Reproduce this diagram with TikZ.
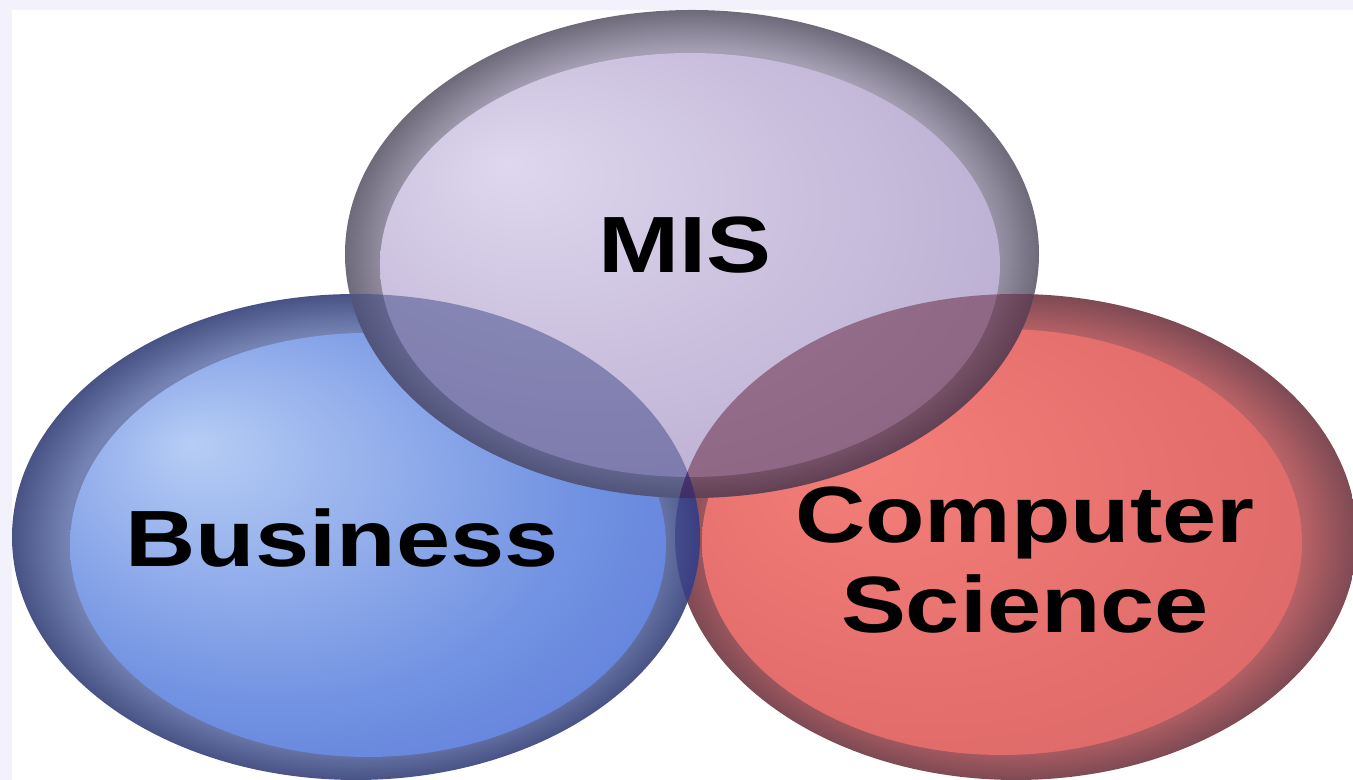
\documentclass[tikz,border=0pt]{standalone}
\usepackage{fontspec}
\setmainfont{Liberation Sans}
\usetikzlibrary{calc}

% colours
\definecolor{framecol}{HTML}{F3F2FC}
\definecolor{misLight}{HTML}{DED7EE}
\definecolor{misMid}{HTML}{C4B9D9}
\definecolor{misDeep}{HTML}{AC9CC6}
\definecolor{misRimIn}{HTML}{A49EB2}
\definecolor{misRimOut}{HTML}{6E6A7A}
\definecolor{bizLight}{HTML}{B6CDF5}
\definecolor{bizMid}{HTML}{7292E2}
\definecolor{bizDeep}{HTML}{4A66D2}
\definecolor{bizRimIn}{HTML}{7483B4}
\definecolor{bizRimOut}{HTML}{485285}
\definecolor{csLight}{HTML}{F47E78}
\definecolor{csMid}{HTML}{E46E6C}
\definecolor{csDeep}{HTML}{CC6464}
\definecolor{csRimIn}{HTML}{B86266}
\definecolor{csRimOut}{HTML}{7E4A54}
\definecolor{lensMB}{HTML}{2E3A7D}
\definecolor{lensMC}{HTML}{550E26}
\definecolor{lensBC}{HTML}{2B287B}

% shadings
\pgfdeclareradialshading{misring}{\pgfpointorigin}{color(0bp)=(misRimIn); color(21bp)=(misRimIn); color(25bp)=(misRimOut); color(50bp)=(misRimOut)}
\pgfdeclareradialshading{misface}{\pgfpoint{-15bp}{12bp}}{color(0bp)=(misLight); color(25bp)=(misMid); color(50bp)=(misDeep)}
\pgfdeclareradialshading{bizring}{\pgfpointorigin}{color(0bp)=(bizRimIn); color(21bp)=(bizRimIn); color(25bp)=(bizRimOut); color(50bp)=(bizRimOut)}
\pgfdeclareradialshading{bizface}{\pgfpoint{-15bp}{12bp}}{color(0bp)=(bizLight); color(25bp)=(bizMid); color(50bp)=(bizDeep)}
\pgfdeclareradialshading{csring}{\pgfpointorigin}{color(0bp)=(csRimIn); color(21bp)=(csRimIn); color(25bp)=(csRimOut); color(50bp)=(csRimOut)}
\pgfdeclareradialshading{csface}{\pgfpoint{-12bp}{10bp}}{color(0bp)=(csLight); color(25bp)=(csMid); color(50bp)=(csDeep)}

\tikzset{
  misout/.style={x radius=3.47, y radius=2.44},
  misin/.style={x radius=3.10, y radius=2.12},
  bizout/.style={x radius=3.44, y radius=2.43},
  bizin/.style={x radius=2.98, y radius=2.12},
  csout/.style={x radius=3.41, y radius=2.43},
  csin/.style={x radius=3.00, y radius=2.13},
  venntext/.style={font=\bfseries\fontsize{22.7}{25.8}\selectfont, xscale=1.22, align=center, inner sep=0pt, text=black}
}

\begin{document}
\begin{tikzpicture}
        %frame
        \fill[framecol] (0,0) rectangle (13.53,7.80);
        \fill[white] (0.12,0) rectangle (13.53,7.70);
        \useasboundingbox (0,0) rectangle (13.53,7.80);

        \coordinate (misc) at (6.92,5.26);
        \coordinate (bizc) at (3.56,2.43);
        \coordinate (csc) at (10.16,2.43);

        \begin{scope}
        \clip (0.12,0) rectangle (13.53,7.70);
        %Computer Science
        \shade[shading=csring] (csc) ellipse [csout];
        \shade[shading=csface] ($(csc)+(-0.14,-0.05)$) ellipse [csin];
        %Business
        \shade[shading=bizring] (bizc) ellipse [bizout];
        \shade[shading=bizface] ($(bizc)+(0.12,-0.08)$) ellipse [bizin];
        %MIS
        \shade[shading=misring] (misc) ellipse [misout];
        \shade[shading=misface] ($(misc)+(-0.02,-0.11)$) ellipse [misin];

        %overlaps
        \begin{scope}
        \clip (bizc) ellipse [bizout];
        \fill[lensMB, fill opacity=0.45] (misc) ellipse [misout];
        \end{scope}
        \begin{scope}
        \clip (csc) ellipse [csout];
        \fill[lensMC, fill opacity=0.45] (misc) ellipse [misout];
        \end{scope}
        \begin{scope}
        \clip (csc) ellipse [csout];
        \fill[lensBC, fill opacity=0.45] (bizc) ellipse [bizout];
        \end{scope}
        \end{scope}

        %labels
        \node[venntext, anchor=base] (mis) at (6.85,5.07) {MIS};
        \node[venntext, anchor=base] (business) at (3.42,2.13) {Business};
        \node[venntext, anchor=base] (cs) at (10.25,1.47) {Computer\\Science};
\end{tikzpicture}
\end{document}
